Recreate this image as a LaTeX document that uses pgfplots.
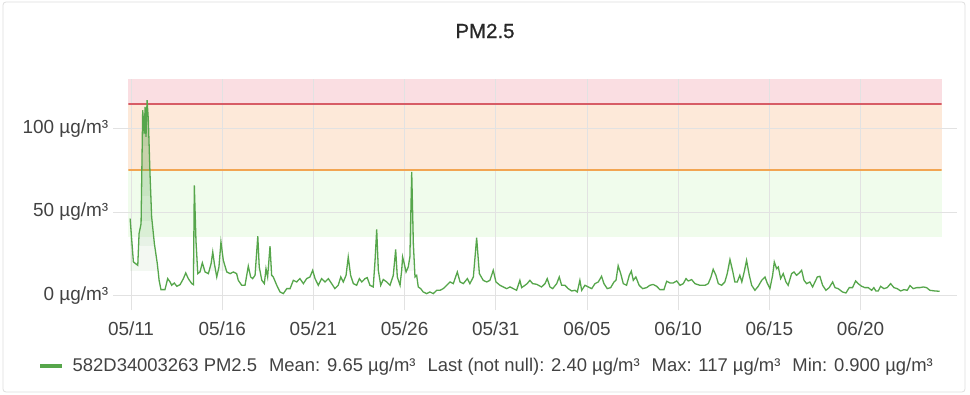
\documentclass[border=0pt]{standalone}
\usepackage{pgfplots}
\pgfplotsset{compat=1.18}
\usepackage{pgfplotstable}
\usepackage{fontspec}
\setmainfont{Liberation Sans}
\newfontfamily\titlefont[FakeBold=0.8]{Liberation Sans}
\definecolor{pmgreen}{RGB}{86,166,75}
\definecolor{gridgray}{RGB}{226,226,226}
\definecolor{labelgray}{RGB}{66,66,66}
\definecolor{titlegray}{RGB}{40,40,40}
\definecolor{bandred}{RGB}{250,222,226}
\definecolor{bandorange}{RGB}{253,233,217}
\definecolor{bandgreen}{RGB}{240,252,236}
\definecolor{linered}{RGB}{215,92,102}
\definecolor{lineorange}{RGB}{242,165,82}
\definecolor{panelgray}{RGB}{222,222,222}

\pgfplotstableread{
d v
-0.05 46
0.13 20
0.37 18
0.44 37
0.55 43
0.64 111
0.73 97
0.77 113
0.82 95
0.88 117
0.95 105
1.04 73
1.13 47
1.28 31
1.44 19
1.54 9
1.64 3.4
1.86 3.4
2.01 10
2.14 8
2.23 6
2.37 7.4
2.51 5.4
2.69 6.4
2.87 10
3.00 13.4
3.14 10
3.33 7
3.42 6.4
3.47 66
3.56 33
3.66 13
3.78 14
3.91 19.5
4.06 14
4.24 13
4.39 19
4.48 26
4.57 19
4.70 11
4.82 17
4.93 32
5.06 21
5.25 14
5.43 13
5.61 14
5.79 13
5.88 9
6.07 6
6.25 6
6.43 17.5
6.56 11
6.67 10
6.80 12
6.95 35.5
7.03 17
7.17 9
7.31 7
7.40 16
7.49 11
7.62 29.5
7.71 12
7.80 11
7.99 6
8.17 2
8.35 1
8.54 4
8.72 4
8.90 9
9.08 8
9.26 10
9.45 7
9.63 10
9.81 11
9.96 15
10.09 10
10.27 6
10.45 10
10.64 8
10.82 10
11.00 7
11.18 4
11.36 6
11.50 11
11.64 8
11.79 12
11.91 23
12.04 12
12.19 7
12.37 6
12.52 10
12.65 8
12.83 10
12.95 10.6
13.10 6
13.28 5
13.38 21
13.47 39.5
13.56 15
13.69 6
13.83 9.5
14.02 8
14.20 6
14.38 12
14.51 27.5
14.60 11
14.75 6
14.84 15
14.89 23
14.98 19
15.08 14
15.20 17
15.29 23
15.39 74
15.48 31
15.57 11
15.66 12
15.75 5
15.88 4
16.02 2
16.21 1
16.39 2
16.57 1
16.76 3
16.94 3
17.12 4
17.31 6
17.49 8
17.67 7
17.89 14
18.04 8
18.22 7
18.44 10
18.58 7
18.77 11
18.95 34.5
19.10 13
19.31 9
19.50 8
19.68 9
19.86 15
20.01 8
20.23 6
20.41 5
20.60 4
20.78 5
20.96 4
21.14 3
21.32 9
21.42 4.6
21.60 6
21.72 7
21.87 9
22.02 7
22.24 6.6
22.51 5
22.70 7
22.82 10
22.97 5
23.12 4
23.34 7
23.48 11
23.61 6
23.79 6
23.97 4
24.16 2.6
24.34 3
24.47 2
24.61 9
24.71 3
24.89 6
25.07 5
25.26 4
25.44 7
25.62 8
25.80 11.4
25.93 7
26.11 4
26.30 4.6
26.48 8
26.59 9
26.71 17.7
26.85 13
26.99 7
27.17 6
27.32 12
27.43 14.5
27.54 9
27.68 11
27.86 6
28.05 4
28.27 4.6
28.45 6
28.63 6.5
28.82 5.4
29.00 3.4
29.22 3.4
29.37 8.4
29.55 7.4
29.73 7.4
29.92 8.6
30.10 6
30.28 7
30.43 10
30.55 8.6
30.74 9.4
30.92 7
31.19 6
31.47 6
31.65 7
31.80 11
31.92 15.6
32.07 12
32.20 7
32.38 6
32.56 8
32.69 13
32.84 21.5
32.98 15
33.11 8
33.24 8
33.38 12
33.49 8
33.62 14
33.75 21
33.90 12
34.03 6
34.21 3
34.39 5.4
34.58 9
34.76 11
34.88 7.4
35.03 4
35.18 12
35.27 20
35.40 16
35.49 17
35.62 10
35.76 13
35.91 8
36.03 6
36.22 13
36.35 14
36.49 12
36.64 13.4
36.77 15
36.90 9
37.04 7
37.22 8
37.37 5
37.50 8
37.63 11
37.77 11.4
37.92 6
38.10 3
38.28 4.6
38.47 8
38.60 4.6
38.77 4
39.01 2
39.20 1.4
39.38 4.6
39.56 4.6
39.73 8.6
39.87 7
40.06 5.4
40.24 4.6
40.42 4.6
40.61 3
40.73 4.6
40.84 2.6
40.97 2.6
41.10 5.4
41.28 4
41.46 4.6
41.65 7
41.83 4.6
42.01 4
42.20 2.6
42.38 3.4
42.56 3
42.71 5.8
42.89 4
43.08 4.6
43.25 4.6
43.44 5
43.62 4.6
43.80 3
44.07 2.6
44.34 2.4
}\pmdata

\begin{document}
\begin{tikzpicture}
\begin{axis}[
  at={(0,0)}, anchor=south west,
  scale only axis, width=813.4bp, height=231.7bp,
  set layers,
  xmin=-0.15, xmax=44.45, ymin=-9, ymax=130,
  xtick={0,5,...,40},
  xticklabels={05/11,05/16,05/21,05/26,05/31,06/05,06/10,06/15,06/20},
  ytick={0,50,100},
  yticklabels={0 µg/m³,50 µg/m³,100 µg/m³},
  grid=major,
  major grid style={draw=gridgray, line width=0.7bp},
  axis line style={draw=none},
  tick align=outside, major tick length=15bp,
  xtick style={draw=none},
  ytick style={draw=gridgray, line width=0.7bp},
  tick label style={font=\fontsize{19}{22}\selectfont, text=labelgray},
  xticklabel style={yshift=7.5bp},
  yticklabel style={xshift=-1.5bp},
  legend style={at={(-0.111,-0.2404)}, anchor=west, draw=none, fill=none,
    font=\fontsize{18.5}{21}\selectfont, text=labelgray, inner sep=0pt, column sep=6bp},
  legend image code/.code={\draw[pmgreen, line width=4.5bp] (0bp,0bp) -- (22bp,0bp);},
]
\addplot[fill=bandred, draw=none, on layer=axis background, forget plot]
  coordinates {(-0.15,130) (44.45,130)} \closedcycle;
\addplot[fill=bandorange, draw=none, on layer=axis background, forget plot]
  coordinates {(-0.15,115) (44.45,115)} \closedcycle;
\addplot[fill=bandgreen, draw=none, on layer=axis background, forget plot]
  coordinates {(-0.15,75) (44.45,75)} \closedcycle;
\addplot[fill=white, draw=none, on layer=axis background, forget plot]
  coordinates {(-0.15,35) (44.45,35)} \closedcycle;
\addplot[linered, line width=1.8bp, forget plot] coordinates {(-0.15,115) (44.45,115)};
\addplot[lineorange, line width=1.8bp, forget plot] coordinates {(-0.15,75) (44.45,75)};
\begin{scope}
  \clip (axis cs:-0.15,15) rectangle (axis cs:44.45,130);
  \addplot[draw=none, fill=pmgreen, fill opacity=0.07, forget plot] table[x=d, y=v] {\pmdata} \closedcycle;
\end{scope}
\begin{scope}
  \clip (axis cs:-0.15,30) rectangle (axis cs:44.45,130);
  \addplot[draw=none, fill=pmgreen, fill opacity=0.07, forget plot] table[x=d, y=v] {\pmdata} \closedcycle;
\end{scope}
\begin{scope}
  \clip (axis cs:-0.15,45) rectangle (axis cs:44.45,130);
  \addplot[draw=none, fill=pmgreen, fill opacity=0.07, forget plot] table[x=d, y=v] {\pmdata} \closedcycle;
\end{scope}
\begin{scope}
  \clip (axis cs:-0.15,60) rectangle (axis cs:44.45,130);
  \addplot[draw=none, fill=pmgreen, fill opacity=0.07, forget plot] table[x=d, y=v] {\pmdata} \closedcycle;
\end{scope}
\begin{scope}
  \clip (axis cs:-0.15,75) rectangle (axis cs:44.45,130);
  \addplot[draw=none, fill=pmgreen, fill opacity=0.07, forget plot] table[x=d, y=v] {\pmdata} \closedcycle;
\end{scope}
\begin{scope}
  \clip (axis cs:-0.15,90) rectangle (axis cs:44.45,130);
  \addplot[draw=none, fill=pmgreen, fill opacity=0.07, forget plot] table[x=d, y=v] {\pmdata} \closedcycle;
\end{scope}
\begin{scope}
  \clip (axis cs:-0.15,105) rectangle (axis cs:44.45,130);
  \addplot[draw=none, fill=pmgreen, fill opacity=0.07, forget plot] table[x=d, y=v] {\pmdata} \closedcycle;
\end{scope}
\addplot[pmgreen, line width=1.3bp] table[x=d, y=v] {\pmdata};
\addlegendentry{582D34003263 PM2.5\hspace{12bp}Mean: 9.65 µg/m³\hspace{12bp}Last (not null): 2.40 µg/m³\hspace{12bp}Max: 117 µg/m³\hspace{12bp}Min: 0.900 µg/m³}
\end{axis}
\draw[panelgray, line width=0.8bp, rounded corners=3bp] (-125.3bp,-81.7bp) rectangle (836.7bp,308.3bp);
\node[font=\titlefont\fontsize{20.5}{24}\selectfont, text=titlegray] at (356.7bp,279.3bp) {PM2.5};
\pgfresetboundingbox
\useasboundingbox (-128.3bp,-84.7bp) rectangle (841.7bp,310.3bp);
\end{tikzpicture}
\end{document}
